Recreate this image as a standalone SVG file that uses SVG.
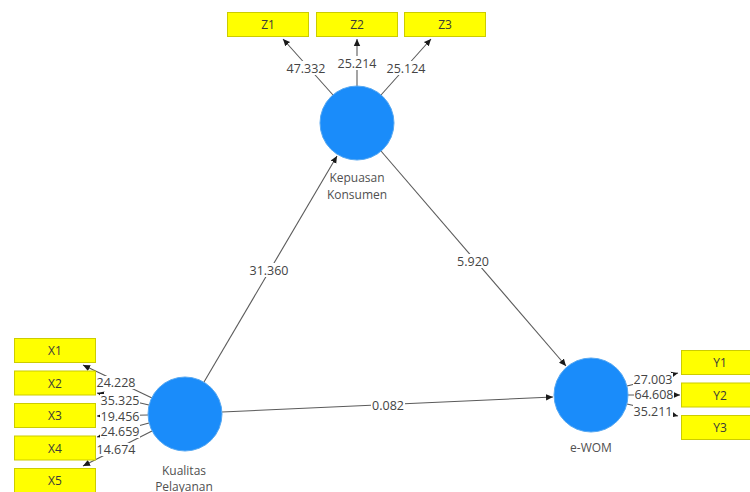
<svg xmlns="http://www.w3.org/2000/svg" width="750" height="492" viewBox="0 0 750 492">
  <style>
    .ind rect { fill: #ffff00; stroke: #cccc00; stroke-width: 1; }
    .ind text { font-family: "Open Sans", "Noto Sans", sans-serif; font-size: 12px; fill: #3a3a3a; text-anchor: middle; }
    .lv circle { fill: #1a8cfa; stroke: #56a8f2; stroke-width: 1; }
    .lv text { font-family: "Open Sans", "Noto Sans", sans-serif; font-size: 12px; fill: #505050; text-anchor: middle; }
    .conn line { stroke: #5a5a5a; stroke-width: 1.1; marker-end: url(#tip); }
    .lbl rect { fill: #ffffff; }
    .lbl text { font-family: "Open Sans", "Noto Sans", sans-serif; font-size: 12.5px; fill: #444444; text-anchor: middle; }
  </style>
  <defs>
    <marker id="tip" markerUnits="userSpaceOnUse" markerWidth="8" markerHeight="8" refX="7" refY="4" orient="auto">
      <path d="M0,0.8 L7,4 L0,7.2 Z" fill="#1a1a1a"/>
    </marker>
  </defs>

  <rect width="750" height="492" fill="#ffffff"/>

  <!-- connectors: lines first, white label plates and values on top -->
  <g id="connectors" class="conn">
    <!-- structural paths -->
    <line x1="204" y1="382" x2="337" y2="156"/>
    <line x1="381" y1="151" x2="566" y2="366"/>
    <line x1="222" y1="412" x2="553" y2="397"/>
    <!-- Kepuasan Konsumen indicators -->
    <line x1="333" y1="95" x2="283" y2="39"/>
    <line x1="357" y1="86" x2="357" y2="39"/>
    <line x1="381" y1="95" x2="431" y2="39"/>
    <!-- Kualitas Pelayanan indicators -->
    <line x1="152" y1="398" x2="83" y2="365"/>
    <line x1="149" y1="405" x2="97" y2="393"/>
    <line x1="148" y1="415" x2="97" y2="416"/>
    <line x1="149" y1="423" x2="97" y2="437"/>
    <line x1="152" y1="431" x2="83" y2="466"/>
    <!-- e-WOM indicators -->
    <line x1="627" y1="386" x2="678" y2="373"/>
    <line x1="628" y1="395" x2="680" y2="395"/>
    <line x1="627" y1="404" x2="678" y2="416"/>
  </g>

  <g id="path-labels" class="lbl">
    <rect x="249" y="263" width="40" height="14"/><text x="269" y="274.5">31.360</text>
    <rect x="456" y="254" width="34" height="14"/><text x="473" y="265.5">5.920</text>
    <rect x="371" y="398" width="34" height="14"/><text x="388" y="409.5">0.082</text>

    <rect x="286" y="61" width="40" height="14"/><text x="306" y="72.5">47.332</text>
    <rect x="337" y="56" width="40" height="14"/><text x="357" y="67.5">25.214</text>
    <rect x="386" y="61" width="40" height="14"/><text x="406" y="72.5">25.124</text>

    <rect x="97" y="376" width="39" height="13"/><text x="116" y="387">24.228</text>
    <rect x="100" y="394" width="40" height="13"/><text x="120" y="405">35.325</text>
    <rect x="100" y="410" width="40" height="13"/><text x="120" y="421">19.456</text>
    <rect x="100" y="425" width="40" height="13"/><text x="120" y="436">24.659</text>
    <rect x="97" y="443" width="39" height="13"/><text x="116" y="454">14.674</text>

    <rect x="633" y="373" width="40" height="13"/><text x="653" y="384">27.003</text>
    <rect x="634" y="388" width="40" height="13"/><text x="654" y="399">64.608</text>
    <rect x="633" y="405" width="40" height="13"/><text x="653" y="416">35.211</text>
  </g>

  <!-- latent variables -->
  <g id="kepuasan-konsumen" class="lv">
    <circle cx="357" cy="123" r="37"/>
    <text x="357" y="182">Kepuasan</text>
    <text x="357" y="198.5">Konsumen</text>
  </g>
  <g id="kualitas-pelayanan" class="lv">
    <circle cx="185" cy="414" r="37"/>
    <text x="184" y="475">Kualitas</text>
    <text x="184" y="491">Pelayanan</text>
  </g>
  <g id="e-wom" class="lv">
    <circle cx="591" cy="395" r="37"/>
    <text x="591" y="452">e-WOM</text>
  </g>

  <!-- indicators -->
  <g id="Z1" class="ind"><rect x="227.5" y="12.5" width="81" height="24"/><text x="268" y="29">Z1</text></g>
  <g id="Z2" class="ind"><rect x="316.5" y="12.5" width="81" height="24"/><text x="357" y="29">Z2</text></g>
  <g id="Z3" class="ind"><rect x="404.5" y="12.5" width="81" height="24"/><text x="445" y="29">Z3</text></g>

  <g id="X1" class="ind"><rect x="14.5" y="338.5" width="81" height="24"/><text x="55" y="355">X1</text></g>
  <g id="X2" class="ind"><rect x="14.5" y="371" width="81" height="24"/><text x="55" y="387.5">X2</text></g>
  <g id="X3" class="ind"><rect x="14.5" y="403.5" width="81" height="24"/><text x="55" y="420">X3</text></g>
  <g id="X4" class="ind"><rect x="14.5" y="436" width="81" height="24"/><text x="55" y="452.5">X4</text></g>
  <g id="X5" class="ind"><rect x="14.5" y="468.5" width="81" height="24"/><text x="55" y="485">X5</text></g>

  <g id="Y1" class="ind"><rect x="681.5" y="350.5" width="80" height="24"/><text x="720" y="367">Y1</text></g>
  <g id="Y2" class="ind"><rect x="681.5" y="383" width="80" height="24"/><text x="720" y="399.5">Y2</text></g>
  <g id="Y3" class="ind"><rect x="681.5" y="415.5" width="80" height="24"/><text x="720" y="432">Y3</text></g>
</svg>
